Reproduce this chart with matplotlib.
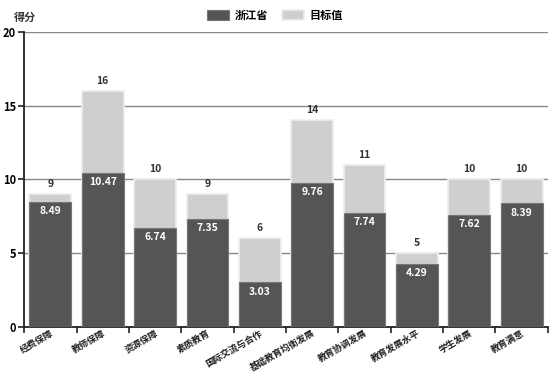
import numpy as np
import matplotlib
matplotlib.use('Agg')
from matplotlib import pyplot as plt
from matplotlib.ticker import FixedLocator

plt.rcParams['font.family'] = ['Noto Sans CJK SC', 'DejaVu Sans']

categories = ['经费保障', '教师保障', '资源保障', '素质教育', '国际交流与合作',
              '基础教育均衡发展', '教育协调发展', '教育发展水平', '学生发展', '教育满意']
zhejiang = [8.49, 10.47, 6.74, 7.35, 3.03, 9.76, 7.74, 4.29, 7.62, 8.39]
target = [9, 16, 10, 9, 6, 14, 11, 5, 10, 10]

fig = plt.figure(figsize=(5.5, 3.75), dpi=100)
ax = fig.add_axes([0.044, 0.128, 0.952, 0.787])

x = np.arange(len(categories))
w = 0.8
ax.bar(x, target, w, color='#cfcfcf', edgecolor='#eeeeee', linewidth=1.2, label='目标值', zorder=2)
ax.bar(x, zhejiang, w, color='#555555', edgecolor='#777777', linewidth=0.8, label='浙江省', zorder=3)

for i in range(len(x)):
    ax.text(x[i], target[i] + 0.35, str(target[i]), ha='center', va='bottom',
            fontsize=7.5, color='#333333', fontweight='bold')
    ax.text(x[i], zhejiang[i] - 0.3, '%.2f' % zhejiang[i], ha='center', va='top',
            fontsize=7.5, color='white', fontweight='bold', zorder=4)

ax.set_xlim(-0.5, len(x) - 0.5)
ax.set_ylim(0, 20)
ax.set_yticks([0, 5, 10, 15, 20])
ax.yaxis.grid(True, color='#888888', linewidth=1.0, zorder=0)
ax.set_axisbelow(True)
for s in ['top', 'right']:
    ax.spines[s].set_visible(False)
ax.spines['left'].set_color('#222222')
ax.spines['left'].set_linewidth(1.3)
ax.spines['bottom'].set_color('#222222')
ax.spines['bottom'].set_linewidth(1.3)

ax.set_xticks(x)
ax.set_xticklabels(categories, rotation=30, ha='right', rotation_mode='anchor',
                   fontsize=6.6, fontweight='bold', color='#222222')
ax.tick_params(axis='x', which='major', length=0, pad=1)
ax.xaxis.set_minor_locator(FixedLocator(np.arange(-0.5, len(x), 1.0)))
ax.tick_params(axis='x', which='minor', length=4, width=1.2, color='#222222')
ax.tick_params(axis='y', length=4, width=1.2, color='#222222', labelsize=8, pad=2)
for lab in ax.get_yticklabels():
    lab.set_fontweight('bold')

fig.text(0.025, 0.955, '得分', fontsize=8, fontweight='bold', color='#333333', va='center')

h, l = ax.get_legend_handles_labels()
fig.legend(h[::-1], l[::-1], loc='center', bbox_to_anchor=(0.5, 0.96), ncol=2, frameon=False,
           prop={'weight': 'bold', 'size': 8}, handlelength=2.0, handleheight=1.0,
           columnspacing=1.2, handletextpad=0.5)

fig.savefig('out.png', dpi=100)
